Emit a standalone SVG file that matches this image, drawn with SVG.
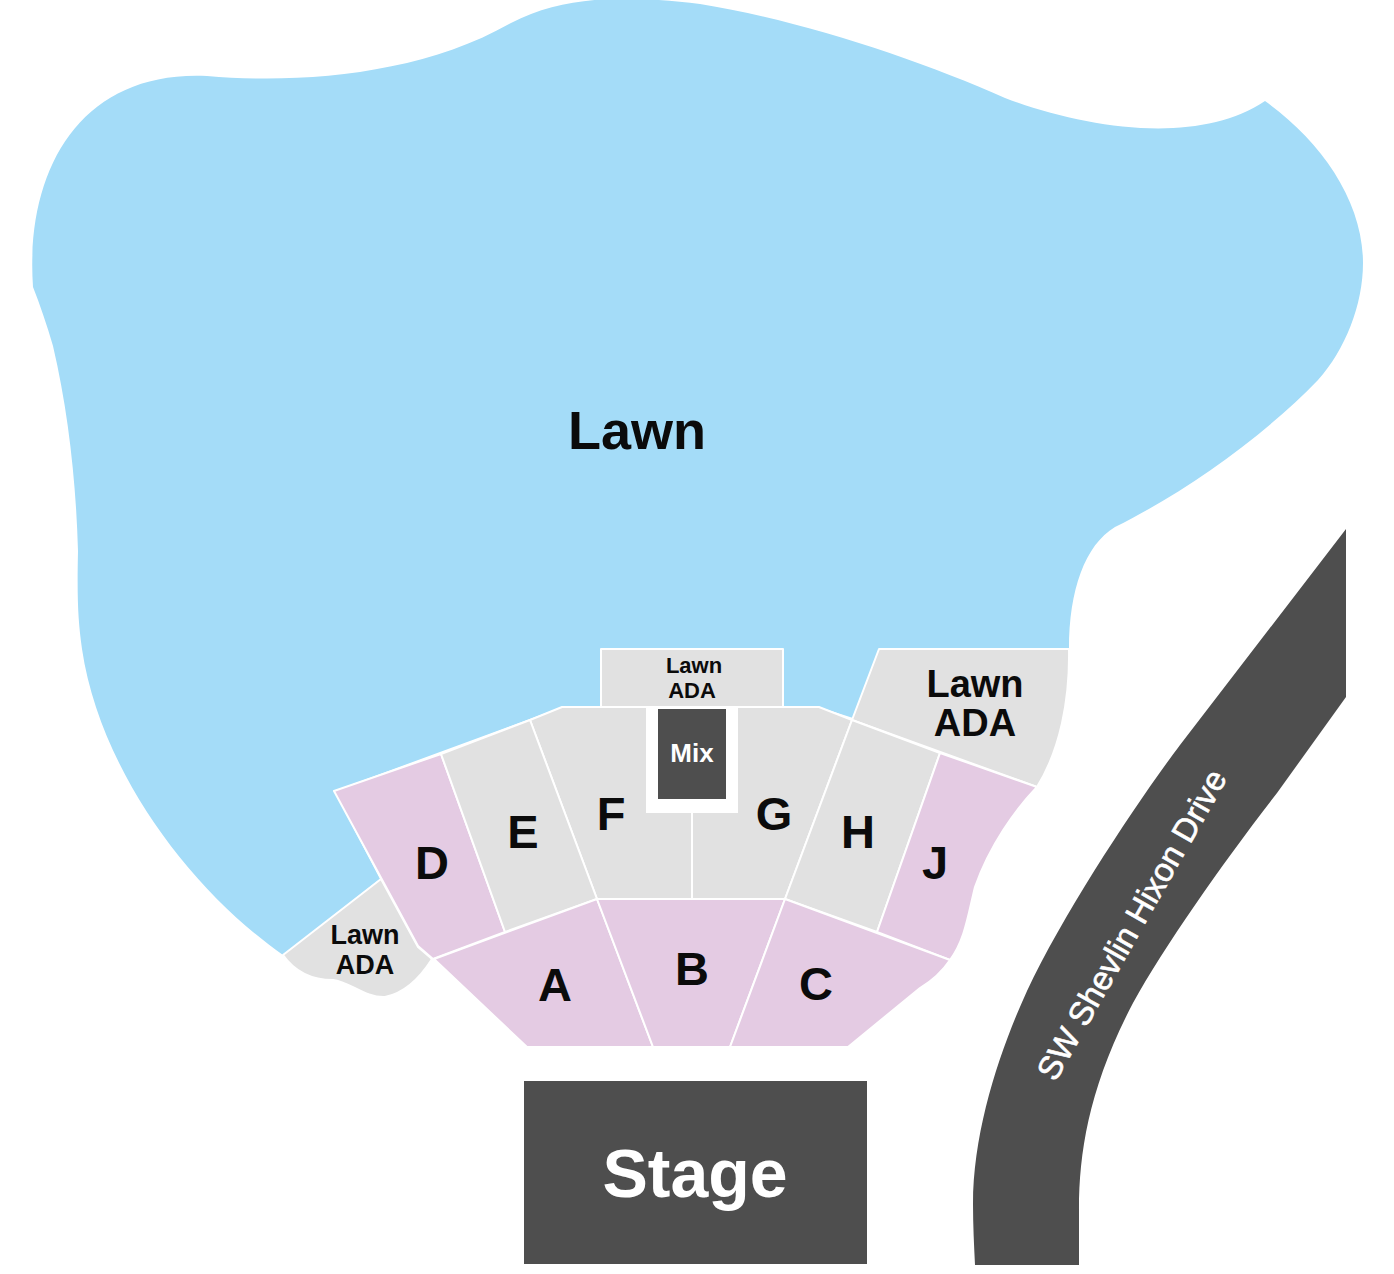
<svg xmlns="http://www.w3.org/2000/svg" width="1394" height="1274" viewBox="0 0 1394 1274">
<style>
.lawn{fill:#a4dcf8}
.grey{fill:#e1e1e1;stroke:#fff;stroke-width:2;stroke-linejoin:round}
.pink{fill:#e4cbe3;stroke:#fff;stroke-width:2;stroke-linejoin:round}
.dark{fill:#4e4e4e}
text{font-family:"Liberation Sans",Arial,sans-serif;font-weight:700;text-anchor:middle;fill:#0b0b0b}
.w{fill:#fff}
.seat{font-size:47px}
.street{font-size:33px;font-weight:400;stroke:#fff;stroke-width:.6}
</style>
<rect width="1394" height="1274" fill="#fff"/>
<g id="lawn">
<path class="lawn" d="M283 955C190 890 100 770 82 649C78 620 77 600 78 551C76 480 68 410 53 346C47 325 40 305 33 287C25 170 80 70 207 76C300 84 420 75 511 23C570 -8 640 -3 700 4C800 20 920 60 1005 98C1090 130 1200 145 1265 101C1320 140 1363 200 1363 263C1363 305 1345 350 1318 380C1260 440 1180 495 1115 527C1085 545 1069 590 1069 649L880 649L853 718L819 707L783 707L783 649L601 649L601 707L562 707L334 791L380 879Z"/>
<text x="637" y="449" font-size="54">Lawn</text>
</g>
<g id="lawn-ada-top">
<rect class="grey" x="601" y="649" width="182" height="58"/>
<text x="694" y="673" font-size="22">Lawn</text>
<text x="692" y="698" font-size="22">ADA</text>
</g>
<g id="lawn-ada-right">
<path class="grey" d="M879 649L1069 649C1070 700 1060 750 1037 787L852 720Z"/>
<text x="975" y="697" font-size="38">Lawn</text>
<text x="975" y="736" font-size="38">ADA</text>
</g>
<g id="lawn-ada-left">
<path class="grey" d="M381 879L283 955C295 972 312 980 333 980C350 982 365 998 385 997C405 993 420 978 432 959L418 947Z"/>
<text x="365" y="944" font-size="27">Lawn</text>
<text x="365" y="974" font-size="27">ADA</text>
</g>
<g id="section-f">
<path class="grey" d="M530 720L562 707L692 707L692 899L597 899Z"/>
<text class="seat" x="611" y="830">F</text>
</g>
<g id="section-g">
<path class="grey" d="M692 707L819 707L852 720L785 899L692 899Z"/>
<text class="seat" x="774" y="830">G</text>
</g>
<g id="mix">
<rect x="646" y="707" width="92" height="106" fill="#fff"/>
<rect class="dark" x="658" y="709" width="68" height="90"/>
<text class="w" x="692" y="762" font-size="26">Mix</text>
</g>
<g id="section-d">
<path class="pink" d="M334 791L441 754L505 932L433 959L418 946Z"/>
<text class="seat" x="432" y="879">D</text>
</g>
<g id="section-e">
<path class="grey" d="M441 754L530 720L597 899L505 932Z"/>
<text class="seat" x="523" y="848">E</text>
</g>
<g id="section-h">
<path class="grey" d="M852 720L940 753L877 932L785 899Z"/>
<text class="seat" x="858" y="848">H</text>
</g>
<g id="section-j">
<path class="pink" d="M940 753L1037 787C1015 810 990 845 975 887C968 915 965 940 950 960L877 932Z"/>
<text class="seat" x="935" y="879">J</text>
</g>
<g id="section-a">
<path class="pink" d="M434 959L597 899L653 1047L527 1047Z"/>
<text class="seat" x="555" y="1001">A</text>
</g>
<g id="section-b">
<path class="pink" d="M597 899L785 899L730 1047L653 1047Z"/>
<text class="seat" x="692" y="985">B</text>
</g>
<g id="section-c">
<path class="pink" d="M785 899L950 960C940 975 930 982 920 988L848 1047L730 1047Z"/>
<text class="seat" x="816" y="1000">C</text>
</g>
<g id="stage">
<rect class="dark" x="524" y="1081" width="343" height="183"/>
<text class="w" x="695" y="1197" font-size="68">Stage</text>
</g>
<g id="road">
<path class="dark" d="M1346 529L1180 745C1140 798 1065 910 1027 991C1000 1050 973 1130 973 1204C973 1225 974 1245 975 1265L1079 1265L1079 1209C1079 1150 1090 1085 1133 1003C1165 945 1225 860 1277 793L1346 697Z"/>
<text class="w street" transform="translate(1134 926) rotate(-60.5)" dominant-baseline="middle">SW Shevlin Hixon Drive</text>
</g>
</svg>
